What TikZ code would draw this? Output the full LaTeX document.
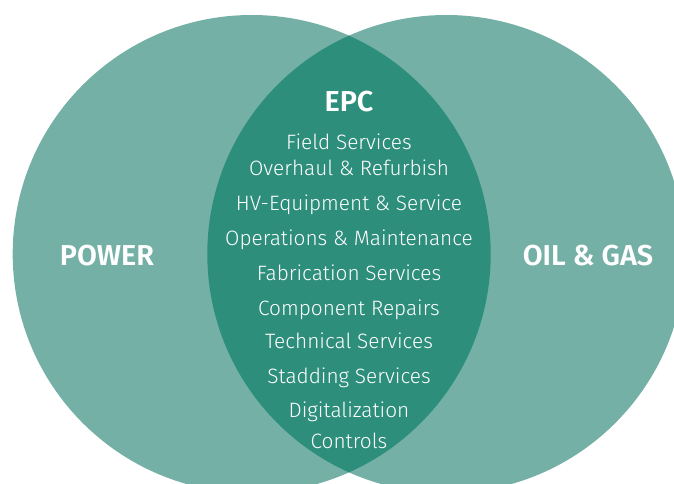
\documentclass[tikz,border=0pt]{standalone}
\usepackage{fontspec}
\setmainfont{Fira Sans}[UprightFont=* Light, BoldFont=* SemiBold]
\definecolor{lightteal}{RGB}{116,176,166}
\definecolor{darkteal}{RGB}{46,142,124}
\begin{document}
\begin{tikzpicture}[x=1pt,y=-1pt,
  item/.style={anchor=base,text=white,font=\fontsize{20.8}{24}\selectfont,inner sep=0pt},
  title/.style={anchor=base,text=white,font=\fontsize{28.8}{32}\selectfont\bfseries,inner sep=0pt}]
\useasboundingbox (0,0) rectangle (674,484);
\begin{scope}
\clip (0,0) rectangle (674,484);
\fill[lightteal] (251.7,254) circle[radius=239];
\fill[lightteal] (446.3,254) circle[radius=239];
\begin{scope}
\clip (251.7,254) circle[radius=239];
\fill[darkteal] (446.3,254) circle[radius=239];
\end{scope}
\end{scope}
\node[title] (epc) at (349,112) {EPC};
\node[title] (power) at (107,265) {POWER};
\node[title] (oilgas) at (588,265) {OIL \& GAS};
\node[item] (l1) at (349,149) {Field Services};
\node[item] (l2) at (349,175) {Overhaul \& Refurbish};
\node[item] (l3) at (349,210) {HV-Equipment \& Service};
\node[item] (l4) at (349,245) {Operations \& Maintenance};
\node[item] (l5) at (349,280) {Fabrication Services};
\node[item] (l6) at (349,315) {Component Repairs};
\node[item] (l7) at (349,348) {Technical Services};
\node[item] (l8) at (349,383) {Stadding Services};
\node[item] (l9) at (349,417) {Digitalization};
\node[item] (l10) at (349,448) {Controls};
\end{tikzpicture}
\end{document}
